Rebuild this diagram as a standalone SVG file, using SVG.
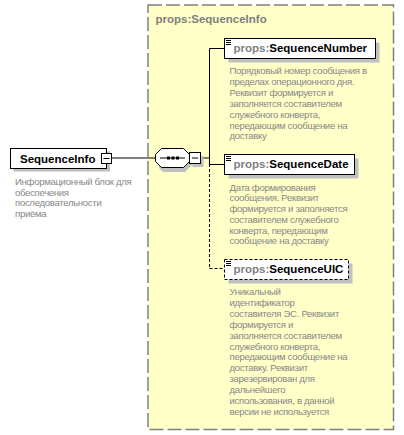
<svg xmlns="http://www.w3.org/2000/svg" width="404" height="435" viewBox="0 0 404 435">
<style>
.lbl{font-family:"Liberation Sans",Arial,sans-serif;font-weight:bold;font-size:11.5px;fill:#000}
.ns{fill:#808080}
.desc{font-family:"Liberation Sans",Arial,sans-serif;font-size:9.6px;letter-spacing:-0.32px;fill:#888888}
.box{fill:#fff;stroke:#000;stroke-width:1}
.shadow{fill:#c0c0c0}
.conn{fill:none;stroke:#000;stroke-width:1}
.icon{stroke:#000;stroke-width:1}
</style>
<rect width="404" height="435" fill="#fff"/>
<g id="group-SequenceInfo">
<rect x="148" y="5" width="245.5" height="424.5" fill="#ffffc8" stroke="#808080" stroke-width="1.5" stroke-dasharray="14,4"/>
<text class="lbl ns" x="155.5" y="23">props:SequenceInfo</text>
</g>
<g id="connectors">
<line class="conn" x1="111.5" y1="158" x2="155" y2="158"/>
<line class="conn" x1="200.5" y1="158" x2="209.5" y2="158"/>
<line class="conn" x1="209.5" y1="48.5" x2="209.5" y2="164"/>
<line class="conn" x1="209.5" y1="164" x2="209.5" y2="268.5" stroke-dasharray="3,2"/>
<line class="conn" x1="209.5" y1="48.5" x2="224.5" y2="48.5"/>
<line class="conn" x1="209.5" y1="164.5" x2="224.5" y2="164.5"/>
<line class="conn" x1="209.5" y1="268.5" x2="224.5" y2="268.5" stroke-dasharray="3,2"/>
</g>
<g id="node-SequenceInfo">
<rect class="shadow" x="13.5" y="151.5" width="96.5" height="20"/>
<rect class="box" x="10.5" y="148.5" width="96" height="20"/>
<text class="lbl" x="20" y="162.5">SequenceInfo</text>
<rect class="box" x="101.5" y="153.5" width="10" height="10"/>
<line class="icon" x1="103.5" y1="158.5" x2="109.5" y2="158.5"/>
<text class="desc" x="15" y="185">Информационный блок для</text>
<text class="desc" x="15" y="195.7">обеспечения</text>
<text class="desc" x="15" y="206.4">последовательности</text>
<text class="desc" x="15" y="217.1">приёма</text>
</g>
<g id="node-sequence">
<polygon class="shadow" points="163,152 185,152 193,160 193,164 185,172 163,172 159,168 159,156"/>
<polygon fill="#fff" stroke="#000" points="161.5,148.5 183.5,148.5 189.5,154.5 189.5,161.5 183.5,167.5 161.5,167.5 155.5,161.5 155.5,154.5"/>
<line class="conn" x1="160" y1="158" x2="185" y2="158"/>
<rect x="167" y="156.5" width="3" height="3" fill="#000"/>
<rect x="171.5" y="156.5" width="3" height="3" fill="#000"/>
<rect x="176" y="156.5" width="3" height="3" fill="#000"/>
<rect class="shadow" x="192.5" y="156" width="11" height="11"/>
<rect class="box" x="189.5" y="152.5" width="11" height="11"/>
<line class="icon" x1="192" y1="158" x2="198" y2="158"/>
</g>
<g id="node-SequenceNumber">
<rect class="shadow" x="228.5" y="42.5" width="151" height="20"/>
<rect class="box" x="224.5" y="38.5" width="151" height="20"/>
<line class="icon" x1="226" y1="40.5" x2="231" y2="40.5"/>
<line class="icon" x1="226" y1="42.5" x2="231" y2="42.5"/>
<line class="icon" x1="226" y1="44.5" x2="231" y2="44.5"/>
<text class="lbl" x="233.5" y="52"><tspan class="ns">props:</tspan>SequenceNumber</text>
<text class="desc" x="229.5" y="74">Порядковый номер сообщения в</text>
<text class="desc" x="229.5" y="84.9">пределах операционного дня.</text>
<text class="desc" x="229.5" y="95.8">Реквизит  формируется и</text>
<text class="desc" x="229.5" y="106.7">заполняется составителем</text>
<text class="desc" x="229.5" y="117.6">служебного конверта,</text>
<text class="desc" x="229.5" y="128.5">передающим сообщение на</text>
<text class="desc" x="229.5" y="139.4">доставку</text>
</g>
<g id="node-SequenceDate">
<rect class="shadow" x="228.5" y="158.5" width="130" height="20"/>
<rect class="box" x="224.5" y="154.5" width="130" height="20"/>
<line class="icon" x1="226" y1="156.5" x2="231" y2="156.5"/>
<line class="icon" x1="226" y1="158.5" x2="231" y2="158.5"/>
<line class="icon" x1="226" y1="160.5" x2="231" y2="160.5"/>
<text class="lbl" x="233.5" y="168"><tspan class="ns">props:</tspan>SequenceDate</text>
<text class="desc" x="229.5" y="190.7">Дата формирования</text>
<text class="desc" x="229.5" y="201.4">сообщения. Реквизит</text>
<text class="desc" x="229.5" y="212.1">формируется и заполняется</text>
<text class="desc" x="229.5" y="222.8">составителем служебного</text>
<text class="desc" x="229.5" y="233.5">конверта, передающим</text>
<text class="desc" x="229.5" y="244.2">сообщение на доставку</text>
</g>
<g id="node-SequenceUIC">
<rect class="shadow" x="228.5" y="263.5" width="124" height="20"/>
<rect class="box" x="224.5" y="259.5" width="124" height="20" stroke-dasharray="3,2"/>
<line class="icon" x1="226" y1="261.5" x2="231" y2="261.5"/>
<line class="icon" x1="226" y1="263.5" x2="231" y2="263.5"/>
<line class="icon" x1="226" y1="265.5" x2="231" y2="265.5"/>
<text class="lbl" x="233.5" y="273"><tspan class="ns">props:</tspan>SequenceUIC</text>
<text class="desc" x="229.5" y="295">Уникальный</text>
<text class="desc" x="229.5" y="305.9">идентификатор</text>
<text class="desc" x="229.5" y="316.8">составителя ЭС. Реквизит</text>
<text class="desc" x="229.5" y="327.7">формируется и</text>
<text class="desc" x="229.5" y="338.6">заполняется составителем</text>
<text class="desc" x="229.5" y="349.5">служебного конверта,</text>
<text class="desc" x="229.5" y="360.4">передающим сообщение на</text>
<text class="desc" x="229.5" y="371.3">доставку. Реквизит</text>
<text class="desc" x="229.5" y="382.2">зарезервирован для</text>
<text class="desc" x="229.5" y="393.1">дальнейшего</text>
<text class="desc" x="229.5" y="404">использования, в данной</text>
<text class="desc" x="229.5" y="414.9">версии не используется</text>
</g>
</svg>
